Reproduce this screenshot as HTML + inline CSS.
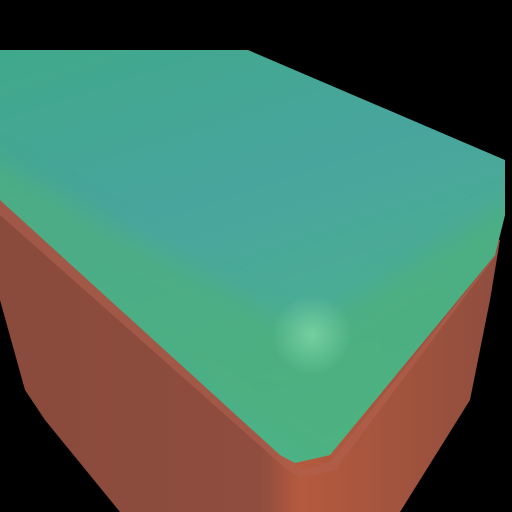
<!DOCTYPE html>
<html><head><style>html,body{margin:0;padding:0;background:#000;}svg{display:block}</style></head>
<body>
<svg width="512" height="512" viewBox="0 0 512 512">
<defs>
<linearGradient id="redL" x1="0" y1="0" x2="1" y2="0">
<stop offset="0" stop-color="#8a4a3c"/><stop offset="0.52" stop-color="#8e4d3e"/><stop offset="0.6" stop-color="#b55a3e"/><stop offset="1" stop-color="#8e4d3e"/>
</linearGradient>
<linearGradient id="greenTop" x1="0" y1="0" x2="0.4" y2="1">
<stop offset="0" stop-color="#40a88a"/><stop offset="0.45" stop-color="#48a59e"/><stop offset="1" stop-color="#4cb38c"/>
</linearGradient>
<radialGradient id="hl" cx="312" cy="335" r="40" gradientUnits="userSpaceOnUse">
<stop offset="0" stop-color="#7fd6a6" stop-opacity="0.8"/><stop offset="1" stop-color="#7fd6a6" stop-opacity="0"/>
</radialGradient>
<filter id="blur" x="-10%" y="-10%" width="120%" height="120%"><feGaussianBlur stdDeviation="12"/></filter>
<clipPath id="topclip"><polygon points="0,50 248,50 505,160 505,215 495,255 330,455 295,463 280,455 0,200"/></clipPath>
</defs>
<polygon points="0,190 500,240 490,300 470,400 400,512 120,512 45,420 25,390 0,300" fill="url(#redL)"/>
<polygon points="0,200 290,455 300,470 330,462 495,255 500,250 335,470 300,478 285,468 0,215" fill="#b0604f" opacity="0.6"/>
<polygon points="0,50 248,50 505,160 505,215 495,255 330,455 295,463 280,455 0,200" fill="url(#greenTop)"/>
<g clip-path="url(#topclip)">
<polygon points="-20,150 280,320 320,325 520,195 520,300 330,480 -20,230" fill="#4db07c" opacity="0.7" filter="url(#blur)"/>
<circle cx="312" cy="335" r="40" fill="url(#hl)"/>
</g>
</svg>
</body></html>
